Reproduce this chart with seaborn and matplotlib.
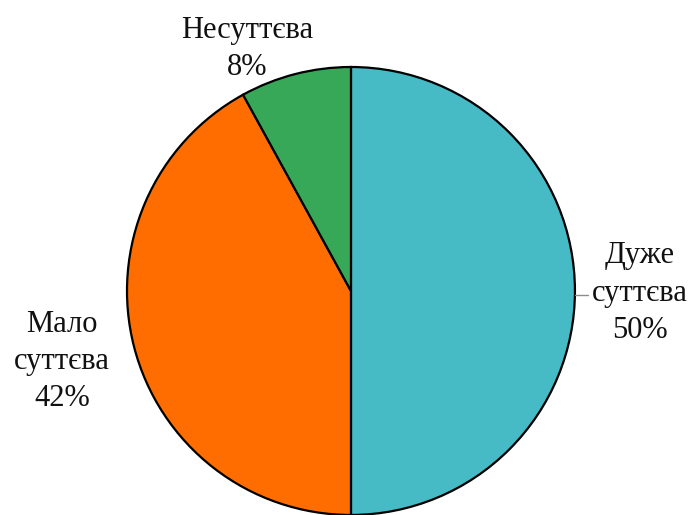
import matplotlib
matplotlib.use("Agg")
import matplotlib.pyplot as plt
import seaborn as sns

categories = ["Дуже\nсуттєва", "Мало\nсуттєва", "Несуттєва"]
shares = [50, 42, 8]
colors = ["#46BBC6", "#FF6D00", "#37A857"]

sns.set_theme(style="white")
plt.rcParams["font.family"] = ["Liberation Serif", "DejaVu Serif"]

fig = plt.figure(figsize=(6.95, 5.15), dpi=100)
ax = fig.add_axes([0, 0, 1, 1])

wedges, _ = ax.pie(
    shares,
    colors=colors,
    startangle=90,
    counterclock=False,
    radius=1.0,
    wedgeprops=dict(edgecolor="black", linewidth=1.6),
)
ax.set_aspect("equal")
ax.set_xlim(-1.567, 1.536)
ax.set_ylim(-1.0, 1.299)
ax.axis("off")

def label(i):
    return f"{categories[i]}\n{shares[i]}%"

txt_kw = dict(fontsize=22, ha="center", va="center", linespacing=1.38, color="#111111")
ax.text(1.29, -0.01, label(0), **txt_kw)
ax.text(-1.29, -0.315, label(1), **txt_kw)
ax.text(-0.464, 1.08, label(2), **txt_kw)

# short leader line for the right-hand label
ax.plot([1.0, 1.06], [-0.02, -0.02], color="#8c8c8c", linewidth=1.0)

fig.savefig("out.png", dpi=100)
